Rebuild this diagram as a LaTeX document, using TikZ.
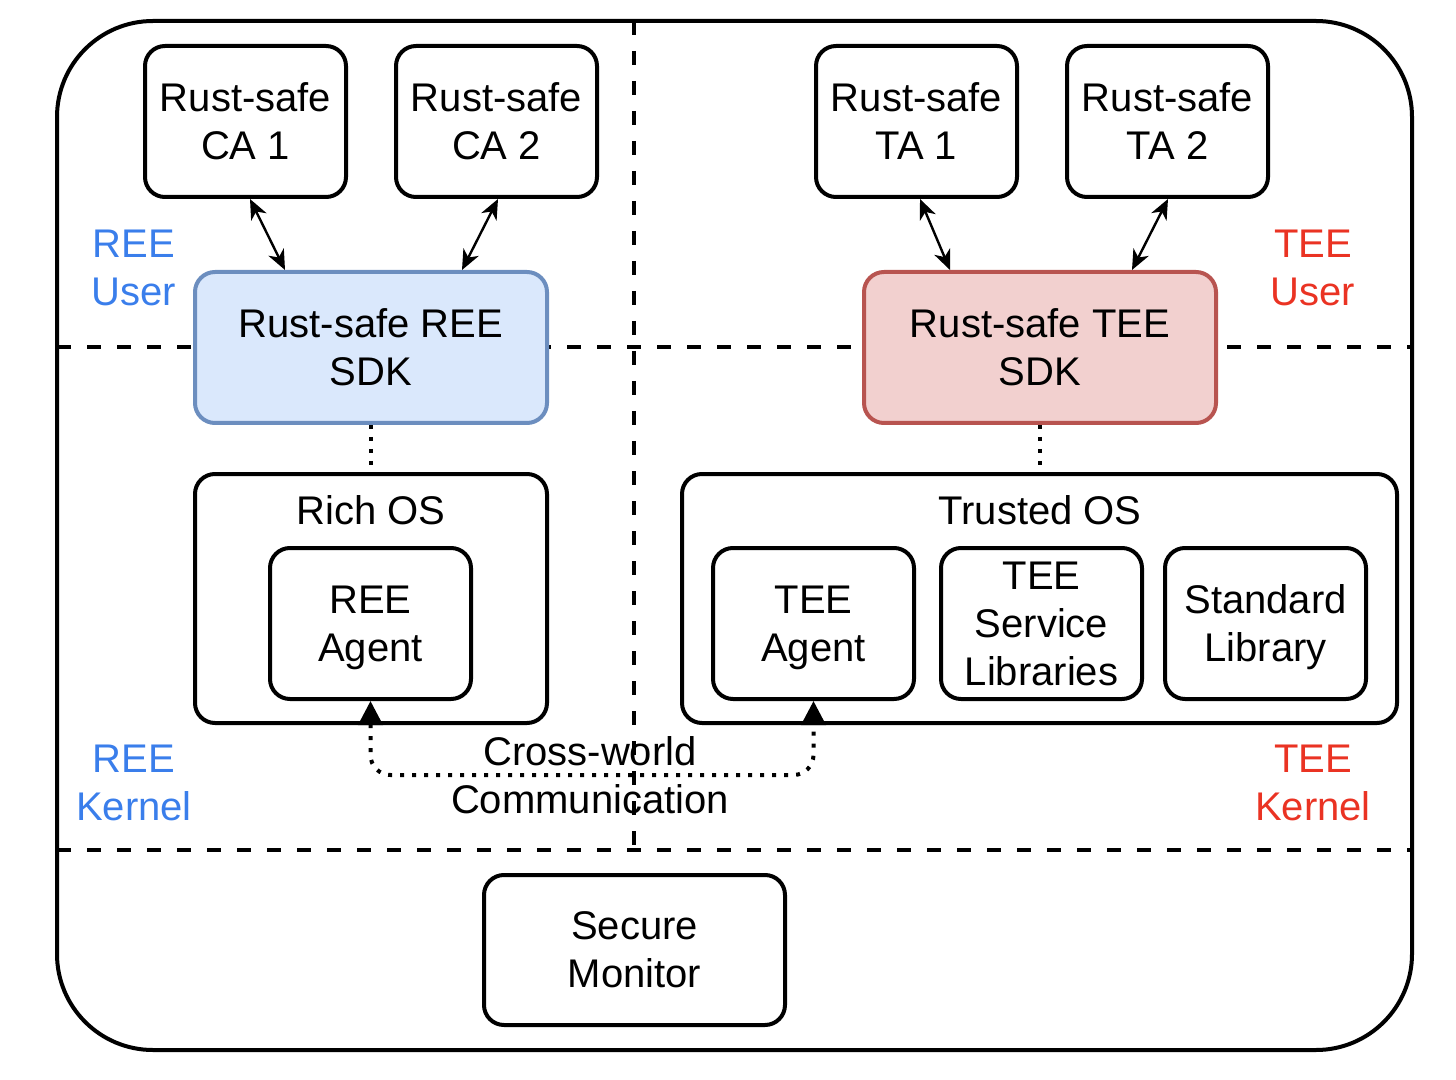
\documentclass[tikz,border=0pt]{standalone}
\usepackage{fontspec}
\setmainfont{Liberation Sans}
\usetikzlibrary{arrows.meta,calc}
\definecolor{reeblue}{HTML}{3A7EEB}
\definecolor{teered}{HTML}{EA3323}
\definecolor{bluefill}{HTML}{DAE8FC}
\definecolor{bluedraw}{HTML}{6C8EBF}
\definecolor{redfill}{HTML}{F2D0CF}
\definecolor{reddraw}{HTML}{B85450}
\tikzset{
  box/.style={draw=black, line width=2pt, rounded corners=10pt, fill=white,
    align=center, inner sep=0pt, text depth=0pt, font=\fontsize{20}{24}\selectfont},
  smallbox/.style={box, minimum width=100.5pt, minimum height=75.5pt},
  sdkbox/.style={box, minimum width=176pt, minimum height=75.5pt},
  zone/.style={align=center, font=\fontsize{20}{24}\selectfont},
  sep/.style={line width=2pt, dash pattern=on 7pt off 8pt},
  dotline/.style={line width=2pt, dash pattern=on 2pt off 4pt},
  biarrow/.style={line width=1.2pt, {Stealth[length=10pt,width=8.5pt,inset=3pt]}-{Stealth[length=10pt,width=8.5pt,inset=3pt]}},
}
\begin{document}
\begin{tikzpicture}[x=0.5pt,y=-0.5pt]
\useasboundingbox (0,0) rectangle (1456,1080);
% outer frame
\node[draw=black, line width=2pt, rounded corners=48pt, minimum width=677.5pt, minimum height=514.5pt, inner sep=0pt] (outer) at (734.5,535.5) {};
% separators
\coordinate (hl1) at (57,347);
\coordinate (hr1) at (1412,347);
\coordinate (hl2) at (57,850);
\coordinate (hr2) at (1412,850);
\coordinate (vt) at (634,21);
\coordinate (vb) at (634,850);
\draw[sep] (hl1) -- (hr1);
\draw[sep] (hl2) -- (hr2);
\draw[sep] (vt) -- (vb);
% zone labels
\node[zone, text=reeblue] (reeuser) at (134,268) {REE\\User};
\node[zone, text=teered] (teeuser) at (1313,268) {TEE\\User};
\node[zone, text=reeblue] (reekernel) at (134,783) {REE\\Kernel};
\node[zone, text=teered] (teekernel) at (1313,783) {TEE\\Kernel};
% apps
\node[smallbox] (ca1) at (245.5,121.5) {Rust-safe\\CA 1};
\node[smallbox] (ca2) at (496.5,121.5) {Rust-safe\\CA 2};
\node[smallbox] (ta1) at (916.5,121.5) {Rust-safe\\TA 1};
\node[smallbox] (ta2) at (1167.5,121.5) {Rust-safe\\TA 2};
% sdks
\node[sdkbox, fill=bluefill, draw=bluedraw] (reesdk) at (371,347.5) {Rust-safe REE\\SDK};
\node[sdkbox, fill=redfill, draw=reddraw] (teesdk) at (1040,347.5) {Rust-safe TEE\\SDK};
% OS containers
\node[box, minimum width=176pt, minimum height=124.5pt] (richos) at (371,598.5) {};
\node[zone] (richoslbl) at (371,510) {Rich OS};
\node[smallbox] (reeagent) at (370.5,623.5) {REE\\Agent};
\node[box, minimum width=357.5pt, minimum height=124.5pt] (trustedos) at (1039.5,598.5) {};
\node[zone] (trustedoslbl) at (1040,510) {Trusted OS};
\node[smallbox] (teeagent) at (813.5,623.5) {TEE\\Agent};
\node[smallbox] (teesvc) at (1041.5,623.5) {TEE\\Service\\Libraries};
\node[smallbox] (stdlib) at (1265.5,623.5) {Standard\\Library};
% secure monitor
\node[box, minimum width=150.5pt, minimum height=75pt] (monitor) at (634.5,950) {Secure\\Monitor};
% arrows
\draw[biarrow] ([xshift=2.25pt]ca1.south) -- ([xshift=-43pt]reesdk.north);
\draw[biarrow] ([xshift=0.75pt]ca2.south) -- ([xshift=45.5pt]reesdk.north);
\draw[biarrow] ([xshift=1.75pt]ta1.south) -- ([xshift=-45pt]teesdk.north);
\draw[biarrow] ([xshift=0.25pt]ta2.south) -- ([xshift=46pt]teesdk.north);
% dotted links
\draw[dotline] (reesdk.south) -- (richos.north);
\draw[dotline] (teesdk.south) -- ([xshift=0.25pt]trustedos.north);
% cross-world
\coordinate (cw) at (590,775);
\draw[dotline, rounded corners=10pt, {Triangle[length=12pt,width=12pt]}-{Triangle[length=12pt,width=12pt]}] (reeagent.south) |- (cw) -| (teeagent.south);
\node[zone] (cwlbl) at (cw) {Cross-world\\Communication};
\end{tikzpicture}
\end{document}
